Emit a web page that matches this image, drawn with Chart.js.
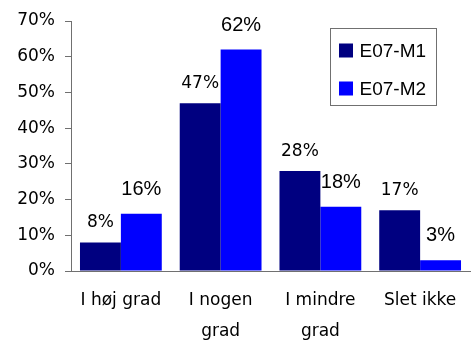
<!DOCTYPE html>
<html>
<head>
<meta charset="utf-8">
<script src="https://cdn.jsdelivr.net/npm/chart.js@4/dist/chart.umd.min.js"></script>
<style>
  html, body { margin: 0; padding: 0; background: #fff; }
  #wrap { width: 473px; height: 340px; }
</style>
</head>
<body>
<div id="wrap"><canvas id="c" width="473" height="340"></canvas></div>
<script>
const categories = [['I høj grad'], ['I nogen', 'grad'], ['I mindre', 'grad'], ['Slet ikke']];
const seriesNames = ['E07-M1', 'E07-M2'];
const m1Values = [8, 47, 28, 17];
const m2Values = [16, 62, 18, 3];
const seriesColors = ['#000080', '#0000FF'];
const yMin = 0, yMax = 70, yStep = 10;

const labelStyles = [
  { font: '17px "DejaVu Sans"', gap: 15 },
  { font: '20px "Liberation Sans", Arial', gap: 19 }
];

const dataLabels = {
  id: 'dataLabels',
  afterDatasetsDraw(chart) {
    const ctx = chart.ctx;
    chart.data.datasets.forEach((ds, di) => {
      const meta = chart.getDatasetMeta(di);
      const st = labelStyles[di];
      ctx.save();
      ctx.font = st.font;
      ctx.fillStyle = '#000';
      ctx.textAlign = 'center';
      ctx.textBaseline = 'alphabetic';
      meta.data.forEach((el, i) => {
        ctx.fillText(ds.data[i] + '%', el.x, el.y - st.gap);
      });
      ctx.restore();
    });
  }
};

const boxLegend = {
  id: 'boxLegend',
  afterDraw(chart) {
    const ctx = chart.ctx;
    const a = chart.chartArea;
    const x0 = a.right - 139.5, y0 = a.top + 7.5, w = 106, h = 77;
    ctx.save();
    ctx.strokeStyle = '#707070';
    ctx.lineWidth = 1;
    ctx.strokeRect(x0, y0, w, h);
    ctx.font = '19px "Liberation Sans", Arial';
    ctx.textBaseline = 'middle';
    ctx.textAlign = 'left';
    chart.data.datasets.forEach((ds, i) => {
      const cy = y0 + 22 + i * 38;
      ctx.fillStyle = ds.backgroundColor;
      ctx.fillRect(x0 + 8.5, cy - 7, 14, 14);
      ctx.fillStyle = '#000';
      ctx.fillText(ds.label, x0 + 29, cy + 1);
    });
    ctx.restore();
  }
};

new Chart(document.getElementById('c'), {
  type: 'bar',
  data: {
    labels: categories,
    datasets: [
      { label: seriesNames[0], data: m1Values, backgroundColor: seriesColors[0] },
      { label: seriesNames[1], data: m2Values, backgroundColor: seriesColors[1] }
    ]
  },
  options: {
    responsive: false,
    animation: false,
    devicePixelRatio: 1,
    layout: { padding: { top: 21, right: 3, left: 0, bottom: 0 } },
    datasets: { bar: { categoryPercentage: 0.82, barPercentage: 1.0 } },
    plugins: { legend: { display: false }, tooltip: { enabled: false } },
    scales: {
      x: {
        grid: { display: false, drawTicks: false },
        border: { display: true, color: '#707070', width: 1 },
        ticks: { color: '#000', font: { family: 'DejaVu Sans', size: 17, lineHeight: 1.77 }, padding: 15, maxRotation: 0, autoSkip: false },
        afterFit(s) { s.height = 69; }
      },
      y: {
        min: yMin, max: yMax,
        grid: { display: true, drawOnChartArea: false, drawTicks: true, tickLength: 6, color: '#707070' },
        border: { display: true, color: '#707070', width: 1 },
        ticks: { stepSize: yStep, color: '#000', font: { family: 'DejaVu Sans', size: 17 }, padding: 10, callback: v => v + '%' },
        afterFit(s) { s.width = 71; }
      }
    }
  },
  plugins: [dataLabels, boxLegend]
});
</script>
</body>
</html>
